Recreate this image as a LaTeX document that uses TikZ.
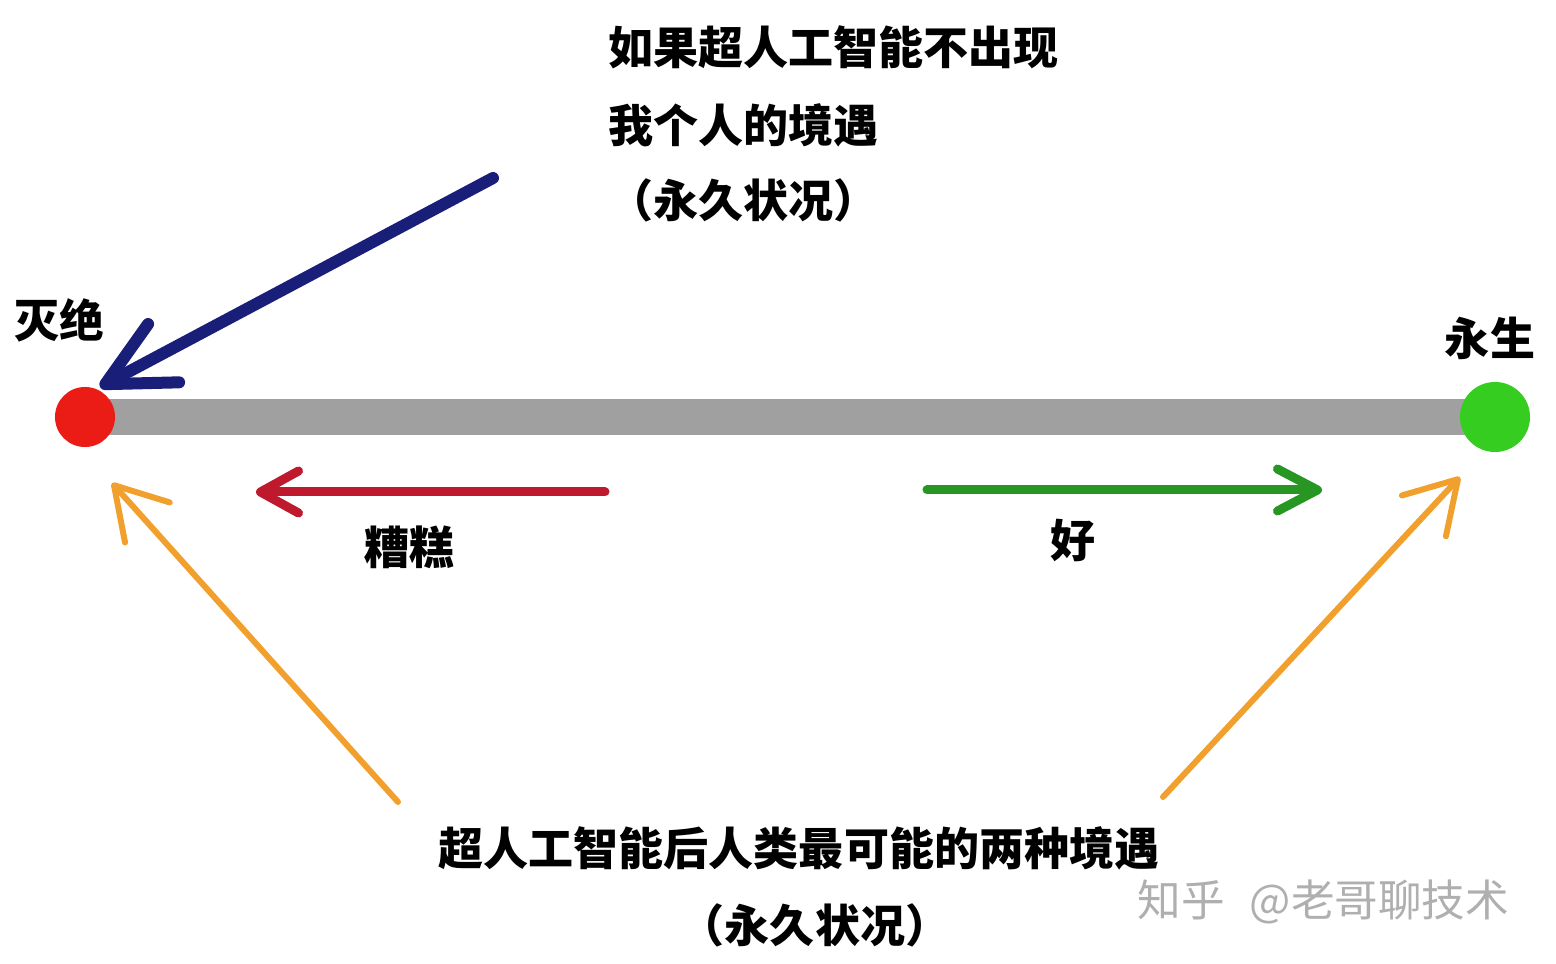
\documentclass[tikz,border=0pt]{standalone}
\usepackage{fontspec}
\newfontfamily\cjk{Noto Sans CJK SC}
\usetikzlibrary{positioning,arrows.meta}
\definecolor{barGray}{RGB}{160,160,160}
\definecolor{dotRed}{RGB}{235,28,22}
\definecolor{dotGreen}{RGB}{52,205,32}
\definecolor{inkBlue}{RGB}{25,30,120}
\definecolor{inkRed}{RGB}{190,25,45}
\definecolor{inkGreen}{RGB}{40,150,35}
\definecolor{inkOrange}{RGB}{242,160,45}
\definecolor{markGray}{RGB}{175,175,175}

\begin{document}
\begin{tikzpicture}[x=0.01cm,y=-0.01cm,
		every node/.style={inner sep=0pt, font=\cjk\bfseries\fontsize{12.8}{15}\selectfont},
		dot/.style={circle, inner sep=0pt},
		stamp/.style={font=\cjk\fontsize{12.4}{15}\selectfont, text=markGray},
		bar/.style={draw=barGray, line width=0.36cm},
		bluearrow/.style={draw=inkBlue, line width=0.12cm, line cap=round, -{Straight Barb[length=6.6mm,width=6.6mm,round]}},
		redarrow/.style={draw=inkRed, line width=0.09cm, line cap=round, -{Straight Barb[length=3.8mm,width=4.2mm,round]}},
		greenarrow/.style={draw=inkGreen, line width=0.09cm, line cap=round, -{Straight Barb[length=4mm,width=4.2mm,round]}},
		orangearrow/.style={draw=inkOrange, line width=0.06cm, line cap=round, -{Straight Barb[length=5mm,width=6mm,round]}}]
	\useasboundingbox (0,0) rectangle (1556,964);
	
	% the line between the two ends
	\coordinate (deadc) at (85,417);
	\coordinate (livec) at (1495,417);
	\draw[bar] (deadc) -- (livec);
	\node[dot, fill=dotRed, minimum size=0.6cm] (dead) at (deadc) {};
	\node[dot, fill=dotGreen, minimum size=0.7cm] (live) at (livec) {};
	\node (deadlabel) at (60,320) {灭绝};
	\node (livelabel) at (1490,338) {永生};
	
	% without superintelligence
	\node[anchor=west] (top1) at (608,47) {如果超人工智能不出现};
	\node[anchor=west] (top2) at (608,125) {我个人的境遇};
	\node[anchor=west] (top3) at (608,200) {（永久状况）};
	\coordinate (bluestart) at (493,178);
	\coordinate (bluetip) at (100,387);
	\draw[bluearrow] (bluestart) -- (bluetip);
	
	% bad and good directions
	\coordinate (badstart) at (605,492);
	\coordinate (badtip) at (256,492);
	\draw[redarrow] (badstart) -- (badtip);
	\node (bad) at (410,547) {糟糕};
	\coordinate (goodstart) at (927,490);
	\coordinate (goodtip) at (1322,490);
	\draw[greenarrow] (goodstart) -- (goodtip);
	\node (good) at (1073,540) {好};
	
	% the two likely outcomes
	\node (bottom1) at (799,848) {超人工智能后人类最可能的两种境遇};
	\node (bottom2) at (815,925) {（永久状况）};
	\coordinate (leftstart) at (398,802);
	\coordinate (lefttip) at (112,483);
	\coordinate (rightstart) at (1163,797);
	\coordinate (righttip) at (1460,477);
	\draw[orangearrow] (leftstart) -- (lefttip);
	\draw[orangearrow] (rightstart) -- (righttip);
	
	\node[stamp, anchor=west] (watermark) at (1137,902) {知乎\hspace{0.25cm}@老哥聊技术};
\end{tikzpicture}
\end{document}
